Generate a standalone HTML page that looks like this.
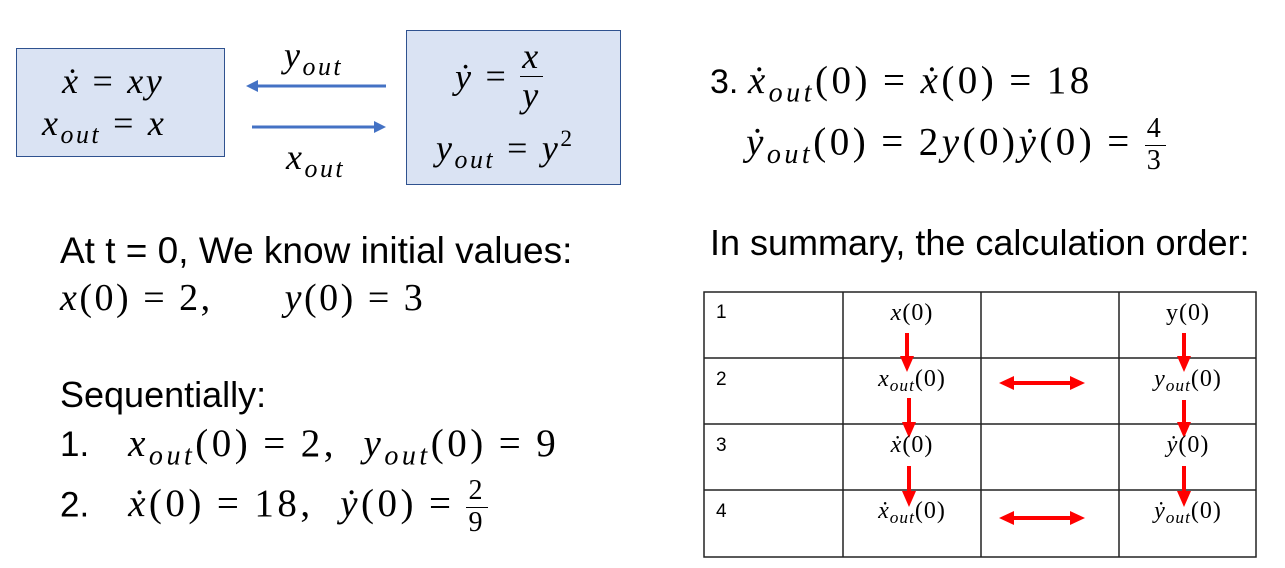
<!DOCTYPE html>
<html><head><meta charset="utf-8"><style>
body{margin:0;width:1285px;height:568px;background:#fff;position:relative;overflow:hidden;font-family:"Liberation Sans",sans-serif;color:#000}
.a{position:absolute;white-space:nowrap}
.m{font-family:"Liberation Serif",serif;font-style:italic;letter-spacing:2.5px}
.r{font-style:normal}
.e{font-style:normal;margin:0 12px}
sub{font-size:72%;vertical-align:-0.3em;font-style:italic}
sup{font-size:65%;vertical-align:0.6em;font-style:normal}
.box{position:absolute;background:#dae3f3;border:1.5px solid #2f528f;box-sizing:border-box}
.frac{display:inline-block;vertical-align:middle;text-align:center;font-size:72%;font-style:normal;line-height:1.1}
.frac span{display:block}
.frac .t{border-bottom:1.5px solid #000;padding:0 2px}
.bf{font-size:100%;font-style:italic;line-height:1.05}
.c{font-family:"Liberation Serif",serif;font-style:italic;font-size:24px;position:absolute;text-align:center;width:138px;letter-spacing:1px}
.c .e{margin:0}
</style></head><body>
<div class="box" style="left:16px;top:48px;width:209px;height:109px"></div>
<div class="a m" style="left:62px;top:60px;font-size:36px;">ẋ<span class="e">=</span>xy</div>
<div class="a m" style="left:42px;top:102px;font-size:36px;">x<sub>out</sub><span class="e">=</span>x</div>
<div class="box" style="left:406px;top:30px;width:215px;height:155px"></div>
<div class="a m" style="left:455px;top:38px;font-size:36px;"><span style="vertical-align:middle">ẏ</span><span class="e" style="vertical-align:middle">=</span><span class="frac bf"><span class="t">x</span><span>y</span></span></div>
<div class="a m" style="left:436px;top:126px;font-size:36px;">y<sub>out</sub><span class="e">=</span>y<sup>2</sup></div>
<svg class="a" style="left:0;top:0" width="1285" height="568">
<line x1="386" y1="86" x2="256" y2="86" stroke="#4472c4" stroke-width="3"/><polygon points="246,86 258,80 258,92" fill="#4472c4"/>
<line x1="252" y1="127" x2="376" y2="127" stroke="#4472c4" stroke-width="3"/><polygon points="386,127 374,121 374,133" fill="#4472c4"/>
<g stroke="#222" stroke-width="1.5" fill="none">
<rect x="704" y="292" width="552" height="265"/>
<line x1="843" y1="292" x2="843" y2="557"/><line x1="981" y1="292" x2="981" y2="557"/><line x1="1119" y1="292" x2="1119" y2="557"/>
<line x1="704" y1="358" x2="1256" y2="358"/><line x1="704" y1="424" x2="1256" y2="424"/><line x1="704" y1="490" x2="1256" y2="490"/>
</g>
<g fill="red" stroke="red">
<line x1="907" y1="333" x2="907" y2="358" stroke-width="4"/><polygon points="900,356 914,356 907,372" stroke="none"/>
<line x1="909" y1="398" x2="909" y2="424" stroke-width="4"/><polygon points="902,422 916,422 909,438" stroke="none"/>
<line x1="909" y1="466" x2="909" y2="493" stroke-width="4"/><polygon points="902,491 916,491 909,507" stroke="none"/>
<line x1="1184" y1="333" x2="1184" y2="358" stroke-width="4"/><polygon points="1177,356 1191,356 1184,372" stroke="none"/>
<line x1="1184" y1="400" x2="1184" y2="424" stroke-width="4"/><polygon points="1177,422 1191,422 1184,438" stroke="none"/>
<line x1="1184" y1="466" x2="1184" y2="493" stroke-width="4"/><polygon points="1177,491 1191,491 1184,507" stroke="none"/>
<line x1="1012" y1="383" x2="1072" y2="383" stroke-width="4"/><polygon points="999,383 1014,376 1014,390" stroke="none"/><polygon points="1085,383 1070,376 1070,390" stroke="none"/>
<line x1="1012" y1="518" x2="1072" y2="518" stroke-width="4"/><polygon points="999,518 1014,511 1014,525" stroke="none"/><polygon points="1085,518 1070,511 1070,525" stroke="none"/>
</g>
</svg>
<div class="a m" style="left:284px;top:34px;font-size:36px;">y<sub>out</sub></div>
<div class="a m" style="left:286px;top:136px;font-size:36px;">x<sub>out</sub></div>

<div class="a" style="left:710px;top:58px;font-size:34px;">3. <span class="m" style="font-size:39px;letter-spacing:3.5px">ẋ<sub>out</sub><span class="r">(0)</span><span class="e">=</span>ẋ<span class="r">(0)</span><span class="e">=</span><span class="r">18</span></span></div>
<div class="a m" style="left:746px;top:114px;font-size:39px;letter-spacing:3.5px">ẏ<sub>out</sub><span class="r">(0)</span><span class="e">=</span><span class="r">2</span>y<span class="r">(0)</span>ẏ<span class="r">(0)</span><span class="e">=</span><span class="frac"><span class="t">4</span><span>3</span></span></div>
<div class="a" style="left:710px;top:222px;font-size:36px;">In summary, the calculation order:</div>

<div class="a" style="left:60px;top:230px;font-size:37px;">At t = 0, We know initial values:</div>
<div class="a m" style="left:60px;top:276px;font-size:38px;">x<span class="r">(0)</span><span class="e">=</span><span class="r">2,</span>&nbsp;&nbsp;&nbsp;&nbsp;&nbsp; y<span class="r">(0)</span><span class="e">=</span><span class="r">3</span></div>
<div class="a" style="left:60px;top:374px;font-size:36px;">Sequentially:</div>
<div class="a" style="left:60px;top:421px;font-size:35px;">1.&nbsp;&nbsp;&nbsp; <span class="m" style="font-size:39px;letter-spacing:3.5px">x<sub>out</sub><span class="r">(0)</span><span class="e">=</span><span class="r">2,</span>&nbsp;&nbsp;y<sub>out</sub><span class="r">(0)</span><span class="e">=</span><span class="r">9</span></span></div>
<div class="a" style="left:60px;top:476px;font-size:35px;">2.&nbsp;&nbsp;&nbsp; <span class="m" style="font-size:39px;letter-spacing:3.5px">ẋ<span class="r">(0)</span><span class="e">=</span><span class="r">18,</span>&nbsp;&nbsp;ẏ<span class="r">(0)</span><span class="e">=</span><span class="frac"><span class="t">2</span><span>9</span></span></span></div>

<div class="a" style="left:716px;top:302px;font-size:19px;">1</div>
<div class="a" style="left:716px;top:369px;font-size:19px;">2</div>
<div class="a" style="left:716px;top:435px;font-size:19px;">3</div>
<div class="a" style="left:716px;top:501px;font-size:19px;">4</div>
<div class="c" style="left:843px;top:300px">x<span class="r">(0)</span></div>
<div class="c" style="left:1119px;top:300px"><span class="r">y(0)</span></div>
<div class="c" style="left:843px;top:366px">x<sub>out</sub><span class="r">(0)</span></div>
<div class="c" style="left:1119px;top:366px">y<sub>out</sub><span class="r">(0)</span></div>
<div class="c" style="left:843px;top:432px">ẋ<span class="r">(0)</span></div>
<div class="c" style="left:1119px;top:432px">ẏ<span class="r">(0)</span></div>
<div class="c" style="left:843px;top:498px">ẋ<sub>out</sub><span class="r">(0)</span></div>
<div class="c" style="left:1119px;top:498px">ẏ<sub>out</sub><span class="r">(0)</span></div>
</body></html>
